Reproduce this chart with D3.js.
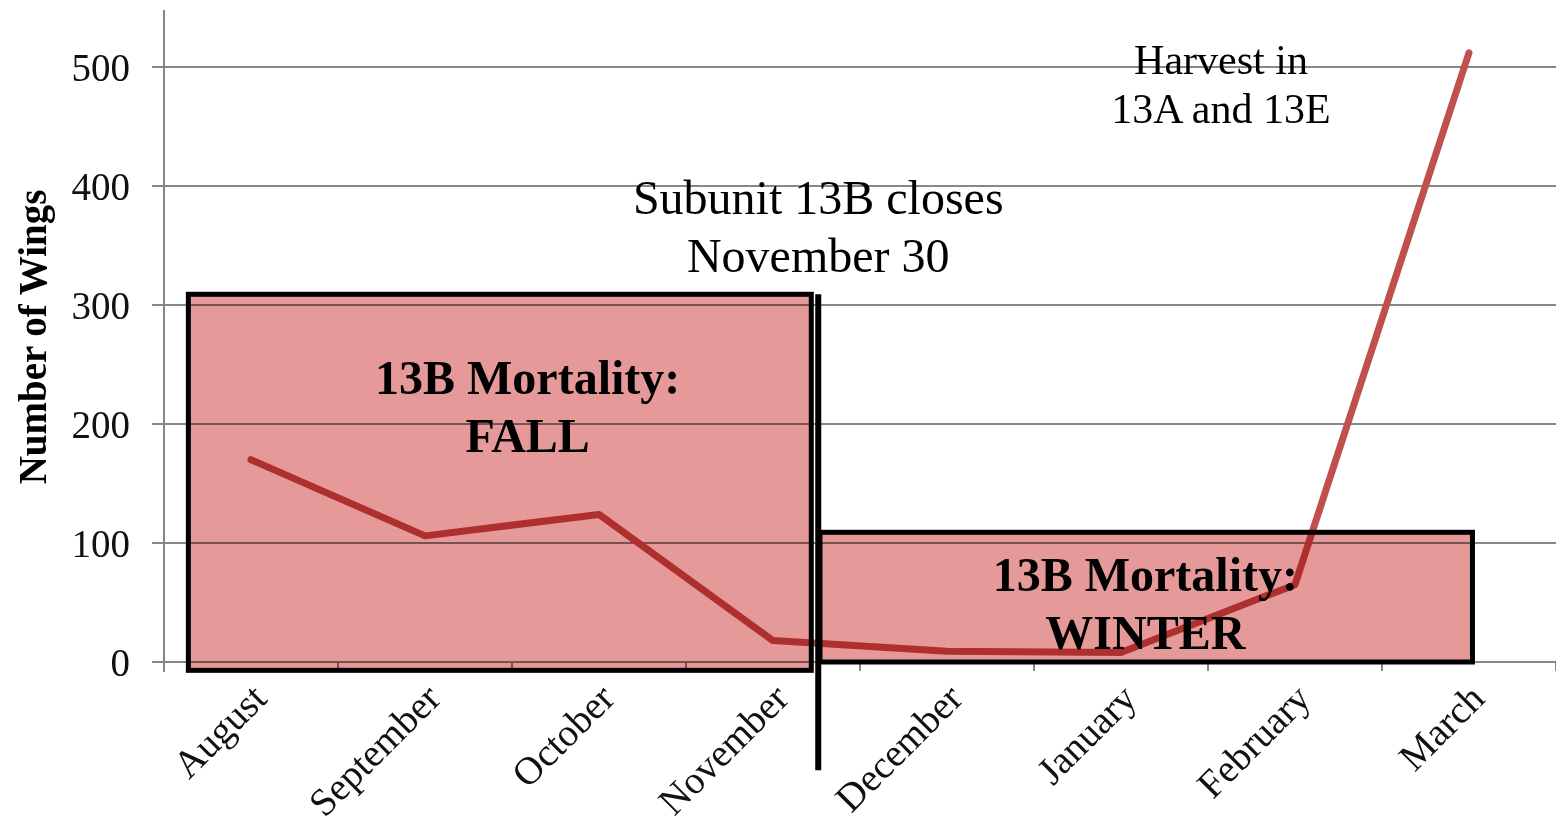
<!DOCTYPE html>
<html>
<head>
<meta charset="utf-8">
<script src="https://cdn.jsdelivr.net/npm/d3@7"></script>
<style>
  body { margin: 0; background: #fff; }
  svg { display: block; font-family: "Liberation Serif", "Times New Roman", serif; }
</style>
</head>
<body>
<svg id="chart" width="1556" height="830"></svg>
<script>
// data
const months = ["August", "September", "October", "November", "December", "January", "February", "March"];
const wings = [170, 106, 124, 18, 9, 8, 65, 512];
const yTicks = [0, 100, 200, 300, 400, 500];
const yTop = 548;

// season boxes, in month-index units and wing values
const boxNames = ["FALL", "WINTER"];
const boxStart = [-0.36, 3.27];
const boxEnd = [3.22, 7.02];
const boxLow = [-7, 0];
const boxHigh = [309, 109];
const boxTextAt = [1.59, 5.14];

const closeIdx = 3.26; // Nov 30 marker
const closeLow = -91, closeHigh = 309;

const svg = d3.select("#chart");

const left = 164, right = 1556, zeroY = 662;

const x = d3.scaleBand().domain(months).range([left, right]).padding(0);
const bw = x.bandwidth();
const xi = d3.scaleLinear().domain([0, 1]).range([left + bw / 2, left + bw * 1.5]);
const y = d3.scaleLinear().domain([0, 500]).range([zeroY, 67]);

const grey = "#878787";

// gridlines
svg.append("g").selectAll("line").data(yTicks).join("line")
    .attr("x1", left - 12).attr("x2", right)
    .attr("y1", d => y(d)).attr("y2", d => y(d))
    .attr("stroke", grey).attr("stroke-width", 2);

// y axis line
svg.append("line")
    .attr("x1", left).attr("x2", left)
    .attr("y1", y(yTop)).attr("y2", zeroY + 10)
    .attr("stroke", grey).attr("stroke-width", 2);

// x ticks at band edges
svg.append("g").selectAll("line").data(months).join("line")
    .attr("x1", d => x(d) + bw).attr("x2", d => x(d) + bw)
    .attr("y1", zeroY).attr("y2", zeroY + 9)
    .attr("stroke", grey).attr("stroke-width", 2);

// y labels
svg.append("g").selectAll("text").data(yTicks).join("text")
    .attr("x", 130).attr("y", d => y(d))
    .attr("dy", "0.35em")
    .attr("text-anchor", "end")
    .attr("font-size", 39)
    .attr("fill", "#111")
    .text(d => d);

// y title
svg.append("text")
    .attr("transform", `translate(46, 337) rotate(-90)`)
    .attr("text-anchor", "middle")
    .attr("font-size", 39)
    .attr("font-weight", "bold")
    .text("Number of Wings");

// x labels
svg.append("g").selectAll("text").data(months).join("text")
    .attr("transform", d => `translate(${x(d) + bw / 2 + 8}, 691) rotate(-45)`)
    .attr("text-anchor", "end")
    .attr("dy", "0.35em")
    .attr("font-size", 39)
    .attr("fill", "#111")
    .text(d => d);

// data line
const line = d3.line()
    .x((d, i) => xi(i))
    .y(d => y(d));

svg.append("path")
    .datum(wings)
    .attr("d", line)
    .attr("fill", "none")
    .attr("stroke", "#c0504d")
    .attr("stroke-width", 7)
    .attr("stroke-linejoin", "round")
    .attr("stroke-linecap", "round");

// season boxes (multiplied over the line like the original)
const boxes = svg.append("g");
boxNames.forEach((name, i) => {
    boxes.append("rect")
        .attr("x", xi(boxStart[i]))
        .attr("y", y(boxHigh[i]))
        .attr("width", xi(boxEnd[i]) - xi(boxStart[i]))
        .attr("height", y(boxLow[i]) - y(boxHigh[i]))
        .attr("fill", "#e69999")
        .style("mix-blend-mode", "multiply");
    boxes.append("rect")
        .attr("x", xi(boxStart[i]))
        .attr("y", y(boxHigh[i]))
        .attr("width", xi(boxEnd[i]) - xi(boxStart[i]))
        .attr("height", y(boxLow[i]) - y(boxHigh[i]))
        .attr("fill", "none")
        .attr("stroke", "#000")
        .attr("stroke-width", 5);
});

// November 30 marker
svg.append("line")
    .attr("x1", xi(closeIdx)).attr("x2", xi(closeIdx))
    .attr("y1", y(closeHigh)).attr("y2", y(closeLow))
    .attr("stroke", "#000").attr("stroke-width", 6);

// annotation text
function label(lines, cx, cy, size, weight, gap) {
    const t = svg.append("text")
        .attr("text-anchor", "middle")
        .attr("font-size", size)
        .attr("font-weight", weight)
        .attr("fill", "#000");
    lines.forEach((s, i) => {
        t.append("tspan").attr("x", cx).attr("y", cy + i * gap).text(s);
    });
}

label(["Subunit 13B closes", "November 30"], xi(closeIdx), 214, 48, "normal", 58);
label(["Harvest in", "13A and 13E"], 1221, 74, 42, "normal", 49);
boxNames.forEach((name, i) => {
    label(["13B Mortality:", name], xi(boxTextAt[i]), 394 + (i ? 197 : 0), 48, "bold", 58);
});
</script>
</body>
</html>
